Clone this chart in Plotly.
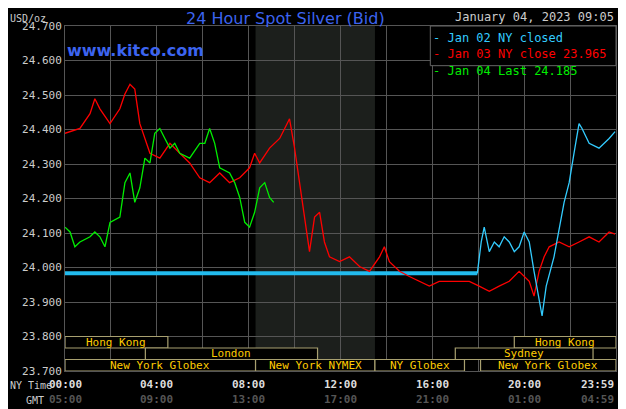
import plotly.graph_objects as go

red_h = [0.00,0.65,1.09,1.30,1.52,1.96,2.39,2.61,2.83,3.04,3.26,3.70,4.13,4.57,5.00,5.43,5.87,6.30,6.74,7.17,7.61,8.04,8.26,8.48,8.91,9.35,9.57,9.78,10.00,10.22,10.43,10.65,10.87,11.09,11.30,11.52,11.96,12.39,12.83,13.26,13.70,13.91,14.13,14.57,15.00,15.43,15.87,16.30,16.74,17.17,17.61,18.04,18.48,18.91,19.35,19.78,20.22,20.43,20.65,20.87,21.09,21.52,21.96,22.39,22.83,23.26,23.70,23.96]
red_p = [24.389,24.403,24.446,24.489,24.460,24.417,24.460,24.503,24.531,24.517,24.417,24.331,24.317,24.360,24.331,24.303,24.260,24.246,24.274,24.246,24.260,24.289,24.331,24.303,24.346,24.374,24.403,24.431,24.346,24.246,24.146,24.046,24.146,24.160,24.074,24.031,24.017,24.031,24.003,23.989,24.031,24.060,24.017,23.989,23.974,23.960,23.946,23.960,23.960,23.960,23.960,23.946,23.931,23.946,23.960,23.989,23.960,23.917,23.989,24.031,24.060,24.074,24.060,24.074,24.089,24.074,24.103,24.097]
green_h = [0.00,0.22,0.43,0.65,1.09,1.30,1.52,1.74,1.96,2.39,2.61,2.83,3.04,3.26,3.48,3.70,3.91,4.13,4.35,4.57,4.78,5.00,5.43,5.87,6.09,6.30,6.52,6.74,7.17,7.39,7.61,7.83,8.04,8.26,8.48,8.70,8.91,9.09]
green_p = [24.117,24.103,24.060,24.074,24.089,24.103,24.089,24.060,24.131,24.146,24.246,24.274,24.189,24.231,24.317,24.303,24.389,24.403,24.374,24.346,24.360,24.331,24.317,24.360,24.360,24.403,24.360,24.289,24.274,24.246,24.203,24.131,24.117,24.160,24.231,24.246,24.203,24.189]
cyan_h = [17.96,18.13,18.26,18.48,18.70,18.91,19.13,19.35,19.57,19.78,20.00,20.22,20.43,20.65,20.78,20.96,21.30,21.74,21.96,22.17,22.39,22.52,22.83,23.26,23.70,23.96]
cyan_p = [23.983,24.074,24.117,24.046,24.074,24.060,24.089,24.074,24.046,24.060,24.103,24.074,23.989,23.903,23.860,23.946,24.031,24.189,24.246,24.331,24.417,24.403,24.360,24.346,24.374,24.394]
close_prev = 23.983
ny_ticks = ["00:00","04:00","08:00","12:00","16:00","20:00","23:59"]
gmt_ticks = ["05:00","09:00","13:00","17:00","21:00","01:00","04:59"]
tick_pos = [0,4,8,12,16,20,24]
y_ticks = [23.7,23.8,23.9,24.0,24.1,24.2,24.3,24.4,24.5,24.6,24.7]
sessions = [("Hong Kong",0,4.48,1),("London",3.5,11.0,2),("New York Globex",0,8.3,3),
            ("New York NYMEX",8.3,13.5,3),("NY Globex",13.5,17.4,3),("New York Globex",18.1,24,3),
            ("Hong Kong",19.57,24,1),("Sydney",17.0,23.0,2)]

MONO = "DejaVu Sans Mono"
fig = go.Figure()
fig.add_trace(go.Scatter(x=[0,17.96], y=[close_prev,close_prev], mode="lines",
                         line=dict(color="#22bbee", width=4), hoverinfo="skip"))
fig.add_trace(go.Scatter(x=red_h, y=red_p, mode="lines", line=dict(color="#ff0000", width=1.3)))
fig.add_trace(go.Scatter(x=green_h, y=green_p, mode="lines", line=dict(color="#00ee00", width=1.3)))
fig.add_trace(go.Scatter(x=cyan_h, y=cyan_p, mode="lines", line=dict(color="#33ccff", width=1.3)))

shapes = [dict(type="rect", xref="x", yref="paper", x0=8.3, x1=13.5, y0=0, y1=1,
               fillcolor="#1c1f1c", line_width=0, layer="below")]
ann = []
rows = {1:(23.7667,23.8),2:(23.7333,23.7667),3:(23.7,23.7333)}
for name,a,b,r in sessions:
    y0,y1 = rows[r]
    shapes.append(dict(type="rect", xref="x", yref="y", x0=a, x1=b, y0=y0, y1=y1,
                       fillcolor="black", line=dict(color="#a8a070", width=1.2)))
    ann.append(dict(x=(a+b)/2, y=(y0+y1)/2, xref="x", yref="y", text=name, showarrow=False,
                    font=dict(family=MONO, size=11, color="#ffcc00")))
for t,n,g in zip(tick_pos, ny_ticks, gmt_ticks):
    anc = "right" if t == 24 else "center"
    ann.append(dict(x=t, y=-0.015, xref="x", yref="paper", yanchor="top", xanchor=anc, text="<b>"+n+"</b>",
                    showarrow=False, font=dict(family=MONO, size=11, color="#dddddd")))
    ann.append(dict(x=t, y=-0.058, xref="x", yref="paper", yanchor="top", xanchor=anc, text="<b>"+g+"</b>",
                    showarrow=False, font=dict(family=MONO, size=11, color="#555555")))
ann += [
    dict(x=-0.103, y=-0.02, xref="paper", yref="paper", xanchor="left", yanchor="top", text="NY Time",
         showarrow=False, font=dict(family=MONO, size=10, color="#cccccc")),
    dict(x=-0.075, y=-0.063, xref="paper", yref="paper", xanchor="left", yanchor="top", text="GMT",
         showarrow=False, font=dict(family=MONO, size=10, color="#cccccc")),
    dict(x=-0.103, y=1.0, yshift=15, xref="paper", yref="paper", xanchor="left", yanchor="top", text="USD/oz",
         showarrow=False, font=dict(family=MONO, size=10, color="#cccccc")),
    dict(x=0.4, y=1.0, yshift=19, xref="paper", yref="paper", xanchor="center", yanchor="top",
         text="24 Hour Spot Silver (Bid)", showarrow=False,
         font=dict(family="DejaVu Sans", size=16, color="#3c64f0")),
    dict(x=1.0, y=1.0, xref="paper", yref="paper", xanchor="right", yanchor="bottom",
         text="January 04, 2023 09:05", showarrow=False, font=dict(family=MONO, size=12, color="#cccccc")),
    dict(x=0.0, y=0.93, xref="paper", yref="paper", xanchor="left", yanchor="middle",
         text="<b>www.kitco.com</b>", showarrow=False, font=dict(family="DejaVu Sans", size=16, color="#3c64f0")),
]
leg = [("- Jan 02 NY closed","#33ccff"),("- Jan 03 NY close 23.965","#ff0000"),("- Jan 04 Last 24.185","#00ee00")]
for i,(t,c) in enumerate(leg):
    ann.append(dict(x=0.665, y=0.965-i*0.047, xref="paper", yref="paper", xanchor="left", yanchor="middle",
                    text=t, showarrow=False, font=dict(family=MONO, size=12, color=c)))
shapes.append(dict(type="rect", xref="paper", yref="paper", x0=0.663, x1=1.0, y0=0.885, y1=1.0,
                   fillcolor="black", line=dict(color="#666666", width=1)))

fig.update_layout(width=626, height=409, margin=dict(l=57, r=18, t=14, b=46),
                  paper_bgcolor="black", plot_bgcolor="black", showlegend=False,
                  shapes=shapes, annotations=ann)
fig.update_xaxes(range=[0,24], dtick=2, showgrid=True, gridcolor="#555555", gridwidth=1,
                 showticklabels=False, zeroline=False, showline=True, linecolor="#555555", mirror=True)
fig.update_yaxes(range=[23.7,24.7], tickvals=y_ticks, tickformat=".3f", showgrid=True,
                 gridcolor="#555555", zeroline=False, showline=True, linecolor="#555555", mirror=True,
                 tickfont=dict(family=MONO, size=11, color="#cccccc"), ticks="")
fig.write_html("out.html")
